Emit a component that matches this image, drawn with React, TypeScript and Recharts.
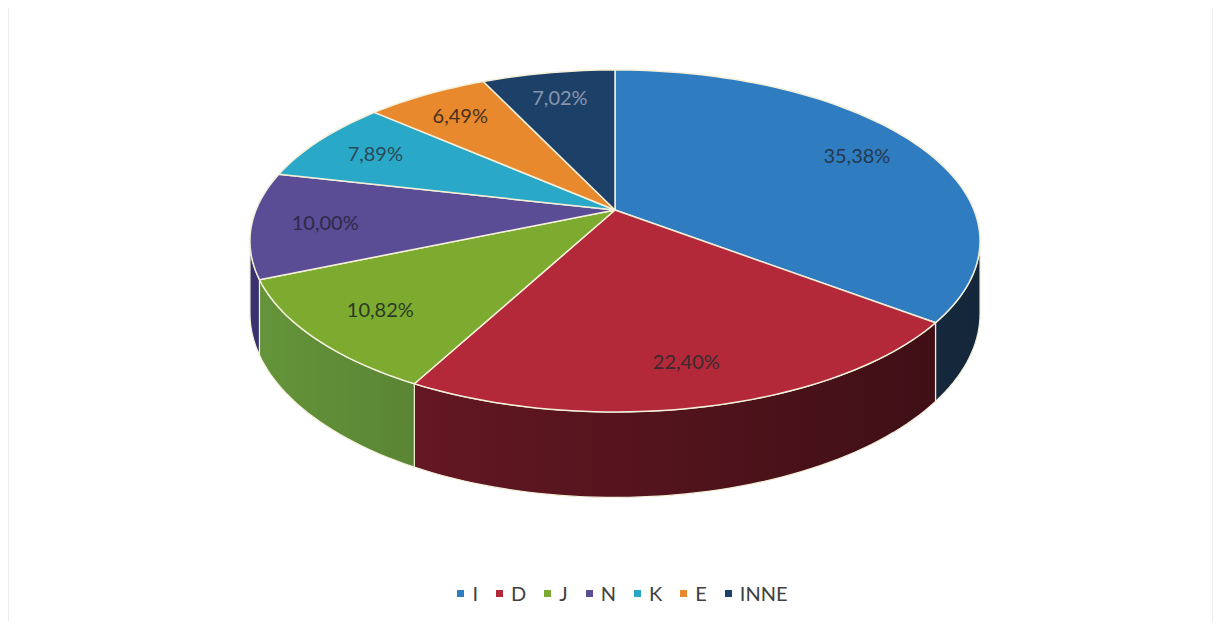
import React from 'react';
import { PieChart, Pie, Legend } from 'recharts';

const categories = ['I', 'D', 'J', 'N', 'K', 'E', 'INNE'];
const shares = [35.38, 22.4, 10.82, 10.0, 7.89, 6.49, 7.02];
const topColors = ['#2f7dc0', '#b3293a', '#7cab2f', '#5b4c96', '#2aa8c8', '#e8892e', '#1d4068'];
const wallColors = ['#24466a', '#6e1a26', '#64943a', '#3a3270', '#1f7a92', '#a8601e', '#142c4a'];
const labelColors = ['#25394d', '#3a2a2c', '#2b3a26', '#2e2a48', '#2c4a58', '#4a3020', '#8796ad'];

const data = categories.map((name, i) => ({ name, value: shares[i] }));

const K = 0.181;
const B_RATIO = 0.4607;
const DEPTH = 70;
const RIM = '#f3efd9';
const LABEL_R = 0.8;

function project(cx: number, cy: number, R: number, deg: number, r: number): [number, number] {
  const t = (deg * Math.PI) / 180;
  const X = r * Math.cos(t);
  const Z = r * Math.sin(t);
  const d = 1 + K * Z;
  return [cx + (R * X) / d, cy - (R * B_RATIO * Z) / d];
}

function depthAt(deg: number) {
  const t = (deg * Math.PI) / 180;
  return DEPTH / (1 + K * Math.sin(t));
}

const fmt = (v: number) => v.toFixed(2).replace('.', ',') + '%';

const renderSlice = (props: any) => {
  const { cx, cy, outerRadius, startAngle, endAngle, index, value } = props;
  const R = outerRadius;
  const span = Math.abs(endAngle - startAngle);
  const steps = Math.max(4, Math.ceil(span / 1.5));
  const pts: [number, number][] = [];
  for (let s = 0; s <= steps; s++) {
    const a = startAngle + ((endAngle - startAngle) * s) / steps;
    pts.push(project(cx, cy, R, a, 1));
  }
  const top = `M${cx},${cy} L` + pts.map((p) => `${p[0].toFixed(2)},${p[1].toFixed(2)}`).join(' L') + ' Z';

  const lo0 = -169.6;
  const hi0 = -10.4;
  const a0 = Math.min(startAngle, endAngle);
  const a1 = Math.max(startAngle, endAngle);
  const walls: string[] = [];
  for (const shift of [-360, 0, 360]) {
    const lo = Math.max(a0, lo0 + shift);
    const hi = Math.min(a1, hi0 + shift);
    if (hi > lo) {
      const n = Math.max(3, Math.ceil((hi - lo) / 1.5));
      const upper: string[] = [];
      const lower: string[] = [];
      for (let s = 0; s <= n; s++) {
        const a = hi - ((hi - lo) * s) / n;
        const p = project(cx, cy, R, a, 1);
        upper.push(`${p[0].toFixed(2)},${p[1].toFixed(2)}`);
      }
      for (let s = n; s >= 0; s--) {
        const a = hi - ((hi - lo) * s) / n;
        const p = project(cx, cy, R, a, 1);
        lower.push(`${p[0].toFixed(2)},${(p[1] + depthAt(a)).toFixed(2)}`);
      }
      walls.push('M' + upper.join(' L') + ' L' + lower.join(' L') + ' Z');
    }
  }

  const mid = (startAngle + endAngle) / 2;
  const lp = project(cx, cy, R, mid, LABEL_R);
  const gid = `wallShade${index}`;

  return (
    <g key={`slice-${index}`}>
      <defs>
        <linearGradient id={gid} gradientUnits="userSpaceOnUse" x1={cx - R} y1={0} x2={cx + R} y2={0}>
          <stop offset="0%" stopColor="#000" stopOpacity={0} />
          <stop offset="100%" stopColor="#000" stopOpacity={0.45} />
        </linearGradient>
      </defs>
      {walls.map((w, wi) => (
        <g key={wi}>
          <path d={w} fill={wallColors[index]} stroke="none" />
          <path d={w} fill={`url(#${gid})`} stroke={RIM} strokeWidth={1.2} />
        </g>
      ))}
      <path d={top} fill={topColors[index]} stroke={RIM} strokeWidth={1.5} strokeLinejoin="round" />
      <text
        x={lp[0]}
        y={lp[1]}
        textAnchor="middle"
        dominantBaseline="central"
        fontFamily="Lato, 'Open Sans', sans-serif"
        fontSize={20}
        fill={labelColors[index]}
      >
        {fmt(value)}
      </text>
    </g>
  );
};

const renderLegend = (props: any) => {
  const payload = [...(props.payload || [])].sort(
    (a: any, b: any) => categories.indexOf(a.value) - categories.indexOf(b.value)
  );
  return (
    <div
      style={{
        display: 'flex',
        justifyContent: 'center',
        alignItems: 'center',
        fontFamily: "Lato, 'Open Sans', sans-serif",
        fontSize: 20,
        color: '#404040',
      }}
    >
      {payload.map((p: any, i: number) => {
        const ci = categories.indexOf(p.value);
        return (
          <span
            key={i}
            style={{ display: 'inline-flex', alignItems: 'center', marginRight: i < payload.length - 1 ? 18 : 0 }}
          >
            <span style={{ width: 7, height: 7, background: topColors[ci], marginRight: 8, display: 'inline-block' }} />
            {p.value}
          </span>
        );
      })}
    </div>
  );
};

export default function App() {
  return (
    <div style={{ width: 1205, height: 613, background: '#fff', borderLeft: '1px solid #ececec', borderRight: '1px solid #ececec', boxSizing: 'border-box' }}>
      <PieChart width={1203} height={613} margin={{ top: 0, right: 0, bottom: 0, left: 0 }}>
        <Pie
          data={data}
          dataKey="value"
          nameKey="name"
          cx={606}
          cy={202}
          outerRadius={359}
          startAngle={90}
          endAngle={-270}
          fill="none"
          stroke="none"
          label={renderSlice}
          labelLine={false}
          isAnimationActive={false}
        />
        <Legend
          content={renderLegend}
          wrapperStyle={{ position: 'absolute', top: 573, left: 12, width: 1203 }}
        />
      </PieChart>
    </div>
  );
}
